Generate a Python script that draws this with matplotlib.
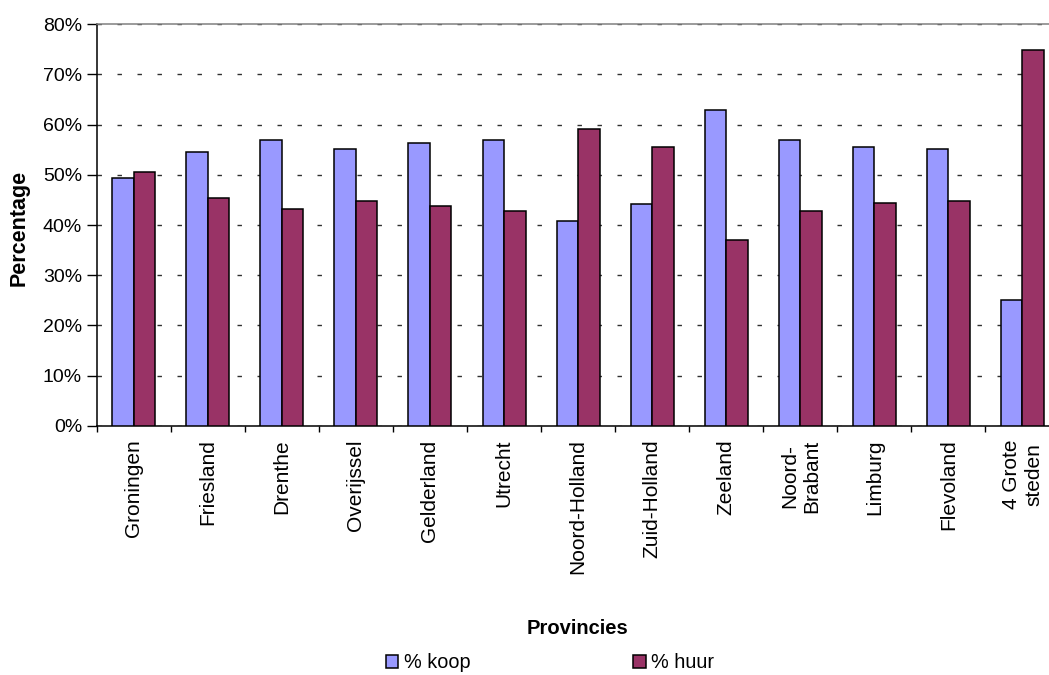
import matplotlib
matplotlib.use("Agg")
import matplotlib.pyplot as plt
import numpy as np
from matplotlib.ticker import FuncFormatter, MultipleLocator

plt.rcParams['font.family'] = ['Liberation Sans', 'DejaVu Sans']

provinces = ["Groningen", "Friesland", "Drenthe", "Overijssel", "Gelderland",
             "Utrecht", "Noord-Holland", "Zuid-Holland", "Zeeland",
             "Noord-\nBrabant", "Limburg", "Flevoland", "4 Grote\nsteden"]
koop = [49.4, 54.5, 56.9, 55.1, 56.3, 56.9, 40.8, 44.1, 62.9, 56.9, 55.5, 55.2, 25.0]
huur = [50.5, 45.4, 43.1, 44.8, 43.8, 42.8, 59.2, 55.5, 37.1, 42.8, 44.4, 44.8, 74.9]
series_names = ["% koop", "% huur"]

W, H = 1049, 675
fig = plt.figure(figsize=(W / 100, H / 100), dpi=100)
left, right, top, bottom = 96.7, 1059.5, 24.3, 425.7
ax = fig.add_axes([left / W, 1 - bottom / H, (right - left) / W, (bottom - top) / H])

x = np.arange(len(provinces))
bw = 0.29
b1 = ax.bar(x - bw / 2, koop, bw, color="#9999FF", edgecolor="black", linewidth=1.1,
            label=series_names[0], zorder=3)
b2 = ax.bar(x + bw / 2, huur, bw, color="#993366", edgecolor="black", linewidth=1.1,
            label=series_names[1], zorder=3)

ax.set_xlim(-0.5, len(provinces) - 0.5)
ax.set_ylim(0, 80)
ax.yaxis.set_major_locator(MultipleLocator(10))
ax.yaxis.set_major_formatter(FuncFormatter(lambda v, p: f"{int(round(v))}%"))

ax.yaxis.grid(True, color="#303030", linewidth=1.0, linestyle=(0, (3.2, 11.2)), zorder=1)
ax.set_axisbelow(True)

# category boundaries carry the tick marks, labels sit at group centres
ax.set_xticks(np.arange(-0.5, len(provinces) + 0.5, 1.0))
ax.set_xticklabels([])
ax.set_xticks(x, minor=True)
ax.set_xticklabels(provinces, minor=True, rotation=90, fontsize=15,
                   va="top", ha="center", multialignment="center")
ax.tick_params(axis="x", which="major", direction="out", length=4.5, width=1, color="black")
ax.tick_params(axis="x", which="minor", length=0, pad=10)
ax.tick_params(axis="y", direction="out", length=7.5, width=1, pad=3, labelsize=14)

for s in ("left", "bottom"):
    ax.spines[s].set_color("black")
    ax.spines[s].set_linewidth(1.1)
ax.spines["top"].set_color("#808080")
ax.spines["top"].set_linewidth(1.1)
ax.spines["right"].set_visible(False)

fig.text(19 / W, 1 - 228 / H, "Percentage", rotation=90, fontsize=15.5, fontweight="bold",
         ha="center", va="center")
fig.text(577 / W, 1 - 629 / H, "Provincies", fontsize=14.5, fontweight="bold",
         ha="center", va="center")

fig.legend(handles=[b1, b2], labels=series_names, loc="center",
           bbox_to_anchor=(550 / W, 1 - 663 / H), ncol=2, frameon=False, fontsize=14.3,
           handlelength=0.62, handleheight=0.65, handletextpad=0.28, columnspacing=8.2,
           borderpad=0, borderaxespad=0)

fig.savefig("out.png", dpi=100)
